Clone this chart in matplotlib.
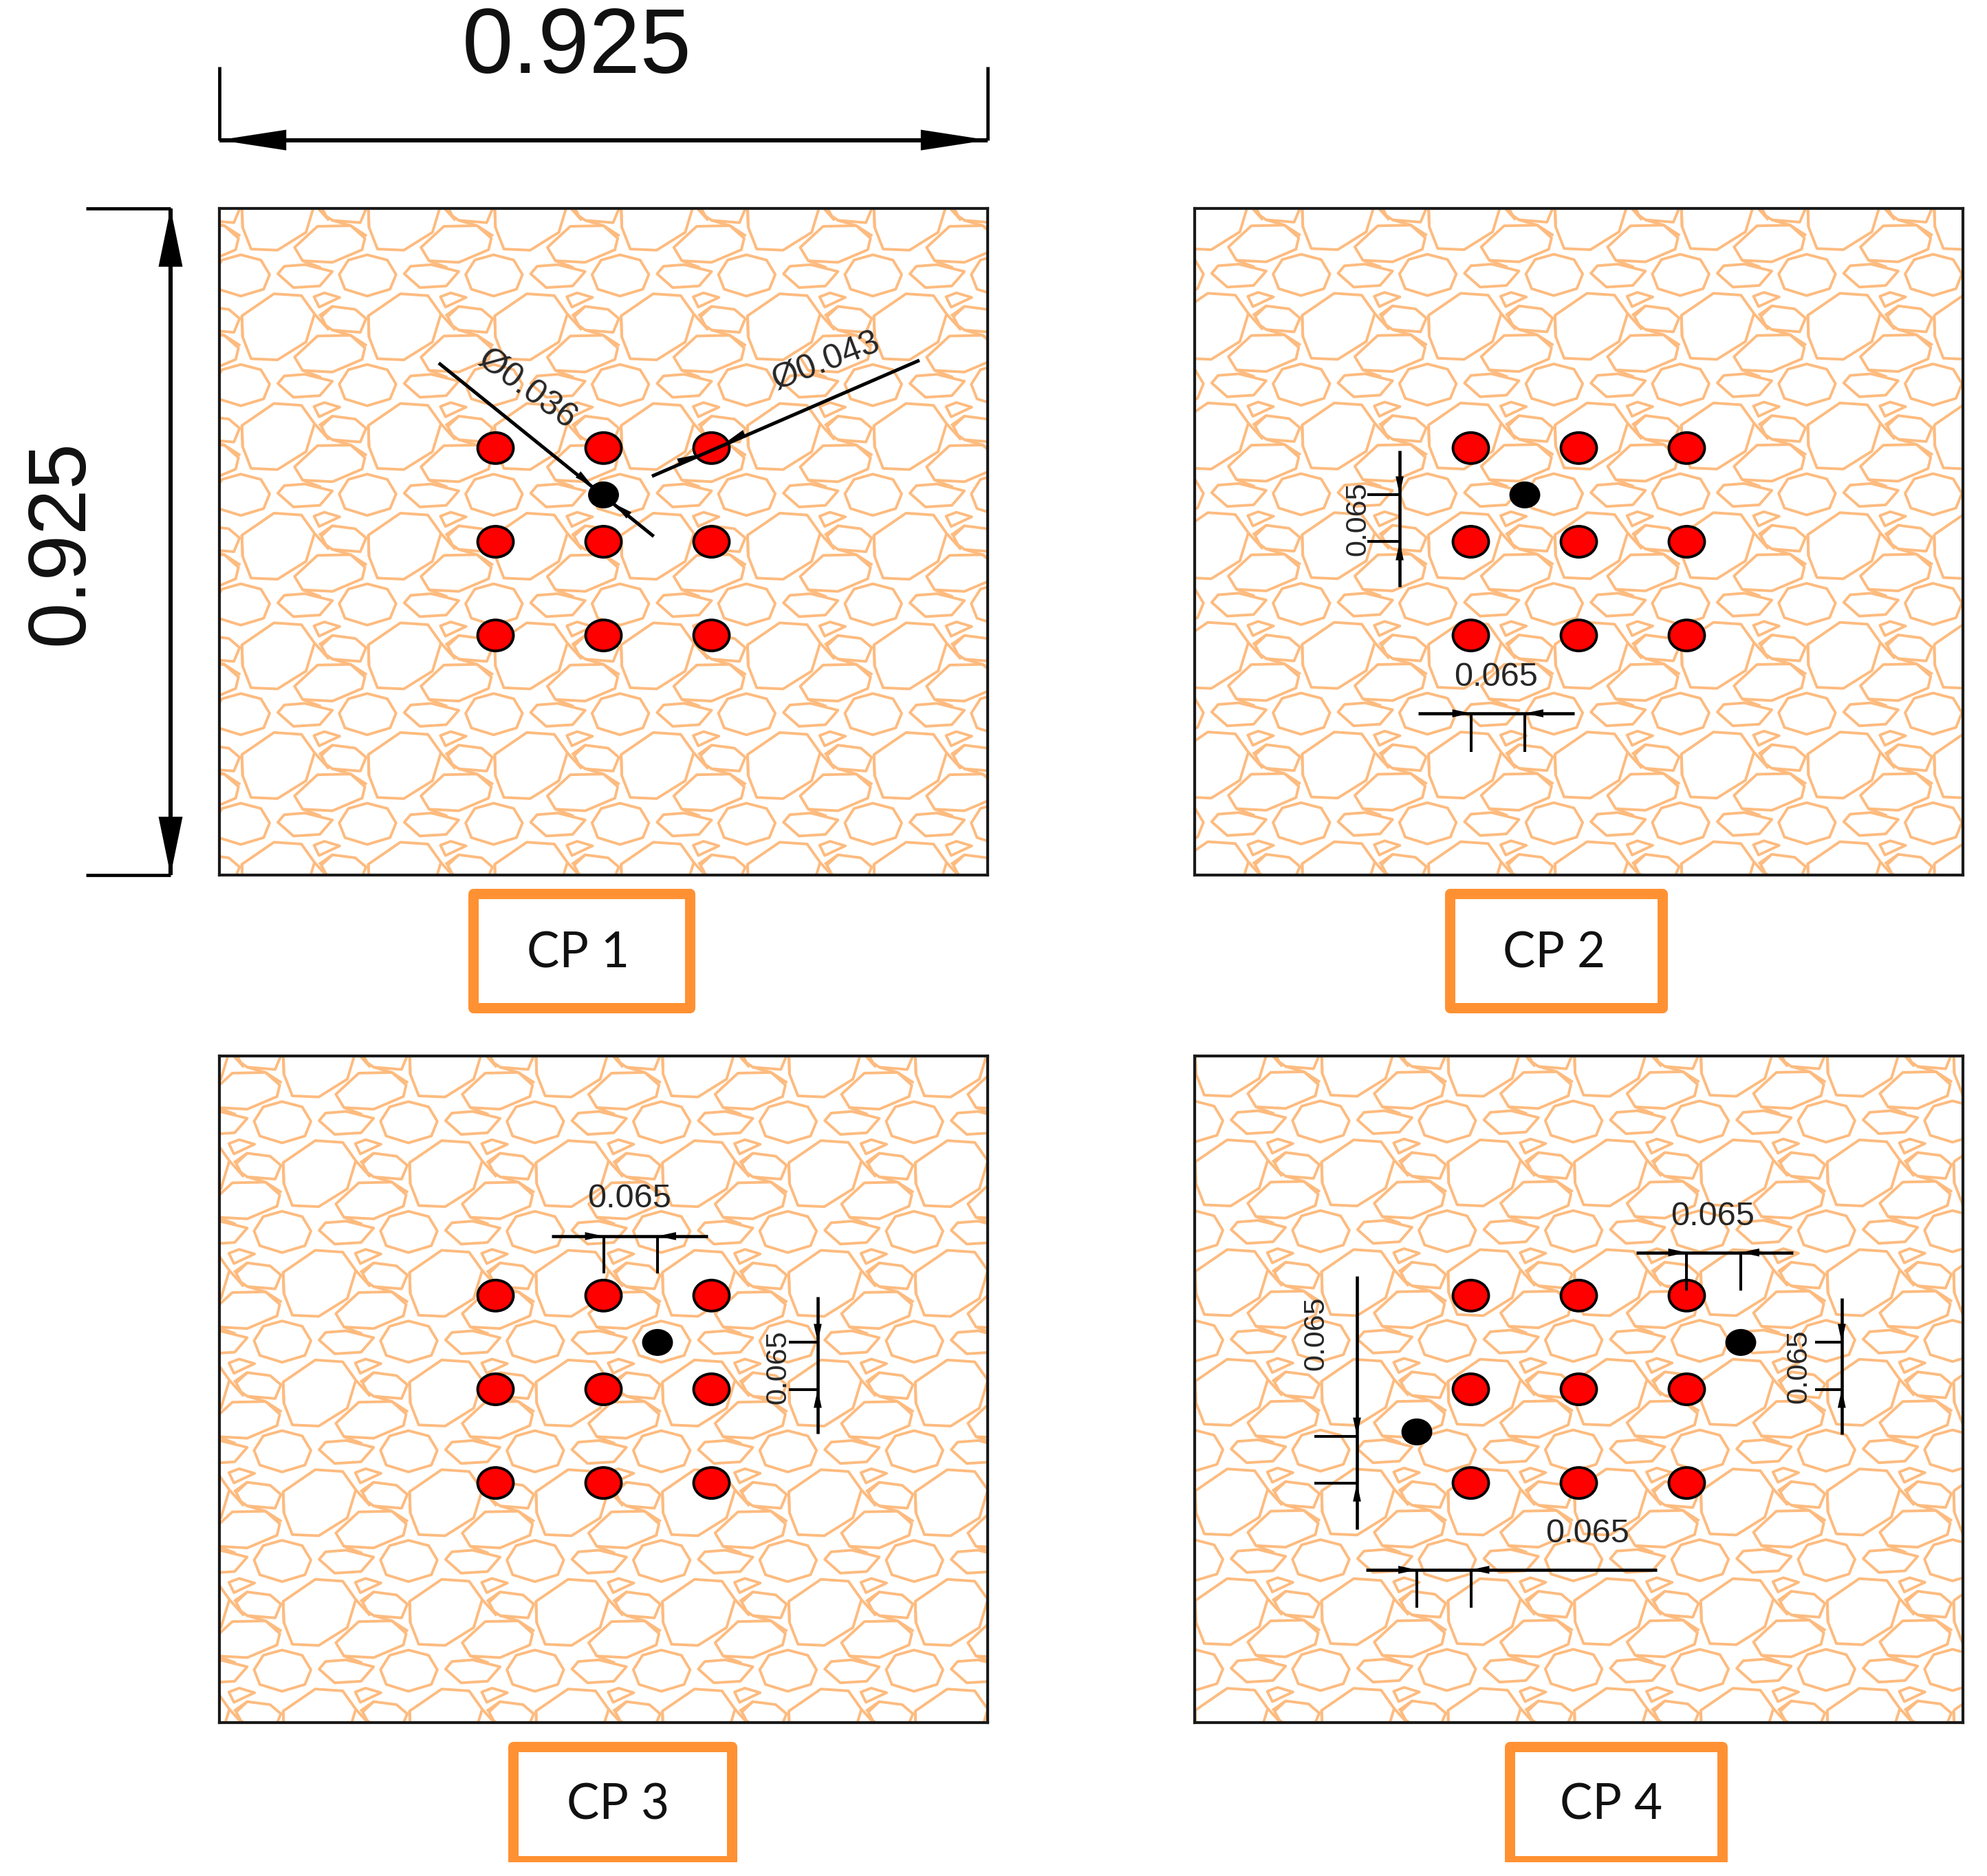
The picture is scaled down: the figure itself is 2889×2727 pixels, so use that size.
import numpy as np
import matplotlib
matplotlib.use("Agg")
import matplotlib.pyplot as plt
from matplotlib.collections import PolyCollection, LineCollection
from matplotlib.patches import Ellipse, Rectangle

W, H = 2889, 2727
SIDE = 0.925
PITCH = 0.13
STEP = 0.065
MID = SIDE / 2
D_RED = 0.043
D_BLACK = 0.036
STONE = "#FDBB7F"
BOX = "#FF9133"
INK = "#262626"

panel_names = ["CP 1", "CP 2", "CP 3", "CP 4"]
panel_left_px = [319, 1737, 319, 1737]
panel_top_px = [303, 303, 1535, 1535]
panel_w_px, panel_h_px = 1117, 969

# stones of one repeating tile, sketched in tile units
large = [(95,478),(235,382),(355,390),(412,470),(375,592),(250,670),(135,665),(98,570)]
flat_a = [(325,658),(425,566),(570,563),(632,618),(620,668),(490,723),(360,716)]
round_c = [(520,298),(560,235),(642,212),(730,235),(768,298),(742,362),(642,392),(545,362)]
flat_d = [(252,295),(280,262),(370,255),(490,285),(435,348),(320,355)]
tiny_e = [(410,395),(455,378),(522,398),(432,440)]
flat_f = [(442,482),(490,437),(590,450),(637,490),(612,550),(490,540),(462,520)]
joins = [[(412,470),(475,540)], [(432,478),(490,437)], [(490,540),(570,563),(640,608)],
         [(360,238),(440,268)], [(95,478),(98,570)]]
stones = [large, flat_a, round_c, flat_d, tiny_e, flat_f]
tile_units_x = 552.0
tile_units_y = 478.0
tile_size = 0.1522
# tile phase of each panel (metres from left, metres from top)
tile_dx = [0.0271, 0.1294, 0.0768, 0.0006]
tile_dy = [0.1490, 0.1483, 0.1480, 0.1470]

# hole positions relative to panel centre, in multiples of STEP
red_col = [-2, 0, 2]
red_row = [-2, 0, 2]
black_holes = [[(0, 1)], [(-1, 1)], [(1, 1)], [(3, 1), (-3, -0.91)]]

# dimension lines: orient, tick a, tick b, level, tick end, line from, line to
dims_cp2 = [("h", 0.3325, 0.3975, 0.2244, 0.1710, 0.269, 0.457),
            ("v", 0.4625, 0.5275, 0.2468, 0.2078, 0.400, 0.589)]
dims_cp3 = [("h", 0.4625, 0.5275, 0.6750, 0.6236, 0.400, 0.588),
            ("v", 0.4625, 0.5275, 0.7204, 0.6856, 0.401, 0.591)]
dims_cp4 = [("h", 0.5925, 0.6575, 0.6523, 0.5997, 0.5316, 0.7204),
            ("v", 0.4625, 0.5275, 0.7791, 0.7469, 0.400, 0.5888),
            ("v", 0.3325, 0.3975, 0.1954, 0.1440, 0.268, 0.620),
            ("h", 0.2675, 0.3325, 0.2120, 0.1595, 0.2058, 0.5564)]
panel_dims = [[], dims_cp2, dims_cp3, dims_cp4]

# dimension labels: text, x, y, rotation, size
labels_cp1 = [("Ø0.036", 0.3700, 0.6741, -36, 36), ("Ø0.043", 0.7300, 0.7124, 21, 36)]
labels_cp2 = [("0.065", 0.3627, 0.2741, 0, 35), ("0.065", 0.1965, 0.4947, 90, 31)]
labels_cp3 = [("0.065", 0.4935, 0.7268, 0, 35), ("0.065", 0.6730, 0.4937, 90, 31)]
labels_cp4 = [("0.065", 0.6240, 0.7020, 0, 35), ("0.065", 0.7270, 0.4947, 90, 31),
              ("0.065", 0.1457, 0.5396, 90, 31), ("0.065", 0.4728, 0.2617, 0, 35)]
panel_labels = [labels_cp1, labels_cp2, labels_cp3, labels_cp4]

# caption boxes: x0, x1, y top, y bottom, visible lower limit, text x, text y
box_x0 = [0.3055, 0.3072, 0.3535, 0.3796]
box_x1 = [0.5664, 0.5631, 0.6170, 0.6355]
box_y0 = [-0.0258, -0.0258, -0.0334, -0.0334]
box_y1 = [-0.1843, -0.1843, -0.1915, -0.1915]
box_cut = [-0.2100, -0.2100, -0.1939, -0.1939]
cap_x = [0.4320, 0.4326, 0.4803, 0.5014]
cap_y = [-0.1085, -0.1085, -0.1150, -0.1150]

# diameter leaders of CP 1: start, end, hole centre, hole diameter
leaders = [((0.2641, 0.7105), (0.5230, 0.4699), (0.4625, 0.5275), D_BLACK),
           ((0.8429, 0.7143), (0.5208, 0.5534), (0.5925, 0.5925), D_RED)]

plt.rcParams["font.family"] = ["Liberation Sans", "DejaVu Sans"]
fig = plt.figure(figsize=(W / 100, H / 100), dpi=100, facecolor="white")


def arrow(ax, tail, tip, length=19.4, half=4.2):
    style = f"-|>,head_length={length},head_width={half}"
    ax.annotate("", xy=tip, xytext=tail, annotation_clip=False, zorder=8,
                arrowprops=dict(arrowstyle=style, mutation_scale=1, color="black",
                                lw=0, shrinkA=0, shrinkB=0))


def draw_tile(ax, dx, dy):
    kx = tile_size / tile_units_x
    ky = tile_size / tile_units_y
    ox, oy = large[0]
    polys, lines = [], []
    for i in range(-2, 9):
        for j in range(-2, 9):
            sx = dx + i * tile_size
            sy = dy + j * tile_size
            conv = lambda p: (sx + (p[0] - ox) * kx, SIDE - (sy + (p[1] - oy) * ky))
            polys += [[conv(p) for p in s] for s in stones]
            lines += [[conv(p) for p in s] for s in joins]
    ax.add_collection(PolyCollection(polys, closed=True, facecolors="none",
                                     edgecolors=STONE, linewidths=2.8, zorder=1))
    ax.add_collection(LineCollection(lines, colors=STONE, linewidths=2.8, zorder=1))


def draw_dim(ax, d):
    o, a, b, level, end, lo, hi = d
    lk = dict(color="black", solid_capstyle="butt", clip_on=False, zorder=7)
    if o == "h":
        ax.plot([lo, hi], [level, level], lw=3.3, **lk)
        ax.plot([a, a], [level, end], lw=2.9, **lk)
        ax.plot([b, b], [level, end], lw=2.9, **lk)
        arrow(ax, (a - 0.03, level), (a, level))
        arrow(ax, (b + 0.03, level), (b, level))
    else:
        ax.plot([level, level], [lo, hi], lw=3.3, **lk)
        ax.plot([level, end], [a, a], lw=2.9, **lk)
        ax.plot([level, end], [b, b], lw=2.9, **lk)
        arrow(ax, (level, a - 0.03), (level, a))
        arrow(ax, (level, b + 0.03), (level, b))


axes = []
for n, name in enumerate(panel_names):
    ax = fig.add_axes([panel_left_px[n] / W, 1 - (panel_top_px[n] + panel_h_px) / H,
                       panel_w_px / W, panel_h_px / H])
    axes.append(ax)
    ax.set_xlim(0, SIDE)
    ax.set_ylim(0, SIDE)
    ax.set_xticks([])
    ax.set_yticks([])
    for s in ax.spines.values():
        s.set_linewidth(3.0)
        s.set_color("#1a1a1a")
        s.set_zorder(6)
    draw_tile(ax, tile_dx[n], tile_dy[n])
    for c in red_col:
        for r in red_row:
            ax.add_patch(Ellipse((MID + c * STEP, MID + r * STEP), D_RED, D_RED,
                                 fc="#FF0000", ec="black", lw=2.8, zorder=5))
    for c, r in black_holes[n]:
        ax.add_patch(Ellipse((MID + c * STEP, MID + r * STEP), D_BLACK, D_BLACK,
                             fc="black", ec="black", lw=1, zorder=5))
    for d in panel_dims[n]:
        draw_dim(ax, d)
    for t, x, y, rot, size in panel_labels[n]:
        ax.text(x, y, t, rotation=rot, fontsize=size, color=INK, ha="center", va="center",
                rotation_mode="anchor", zorder=9)
    frame = Rectangle((box_x0[n], box_y1[n]), box_x1[n] - box_x0[n], box_y0[n] - box_y1[n],
                      fc="white", ec=BOX, lw=10.8, joinstyle="round", zorder=3)
    ax.add_patch(frame)
    frame.set_clip_path(Rectangle((-0.5, box_cut[n]), 2.0, 1.0, transform=ax.transData))
    ax.text(cap_x[n], cap_y[n], name, fontsize=51, family=["Lato", "DejaVu Sans"], color="#111111",
            ha="center", va="center", zorder=4)

# leaders of CP 1
ax = axes[0]
for p0, p1, c, dia in leaders:
    p0, p1, c = np.array(p0), np.array(p1), np.array(c)
    u = (p1 - p0) / np.hypot(*(p1 - p0))
    ax.plot([p0[0], p1[0]], [p0[1], p1[1]], color="black", lw=3.6, solid_capstyle="butt", zorder=7)
    r = dia / 2
    arrow(ax, c - (r + 0.03) * u, c - r * u)
    arrow(ax, c + (r + 0.03) * u, c + r * u)

# overall dimensions around CP 1
TOP_LEVEL, TOP_EXT = 1.0199, 1.1220
LEFT_LEVEL, LEFT_EXT = -0.0588, -0.1606
kw = dict(color="black", clip_on=False, solid_capstyle="butt", zorder=7)
ax.plot([0, SIDE], [TOP_LEVEL, TOP_LEVEL], lw=4.4, **kw)
ax.plot([0, 0], [TOP_LEVEL, TOP_EXT], lw=3.4, **kw)
ax.plot([SIDE, SIDE], [TOP_LEVEL, TOP_EXT], lw=3.4, **kw)
ax.plot([LEFT_LEVEL, LEFT_LEVEL], [0, SIDE], lw=4.4, **kw)
ax.plot([LEFT_EXT, LEFT_LEVEL], [0, 0], lw=3.4, **kw)
ax.plot([LEFT_EXT, LEFT_LEVEL], [SIDE, SIDE], lw=3.4, **kw)
arrow(ax, (0.12, TOP_LEVEL), (0, TOP_LEVEL), 70, 10.8)
arrow(ax, (SIDE - 0.12, TOP_LEVEL), (SIDE, TOP_LEVEL), 70, 10.8)
arrow(ax, (LEFT_LEVEL, SIDE - 0.12), (LEFT_LEVEL, SIDE), 61, 12.6)
arrow(ax, (LEFT_LEVEL, 0.12), (LEFT_LEVEL, 0), 61, 12.6)
ax.text(0.4302, 1.146, "0.925", fontsize=96, color="#111111", ha="center", va="center", clip_on=False)
ax.text(-0.1900, 0.4613, "0.925", fontsize=86, rotation=90, color="#111111", ha="center", va="center", clip_on=False)

fig.savefig("out.png", dpi=100, facecolor="white")
